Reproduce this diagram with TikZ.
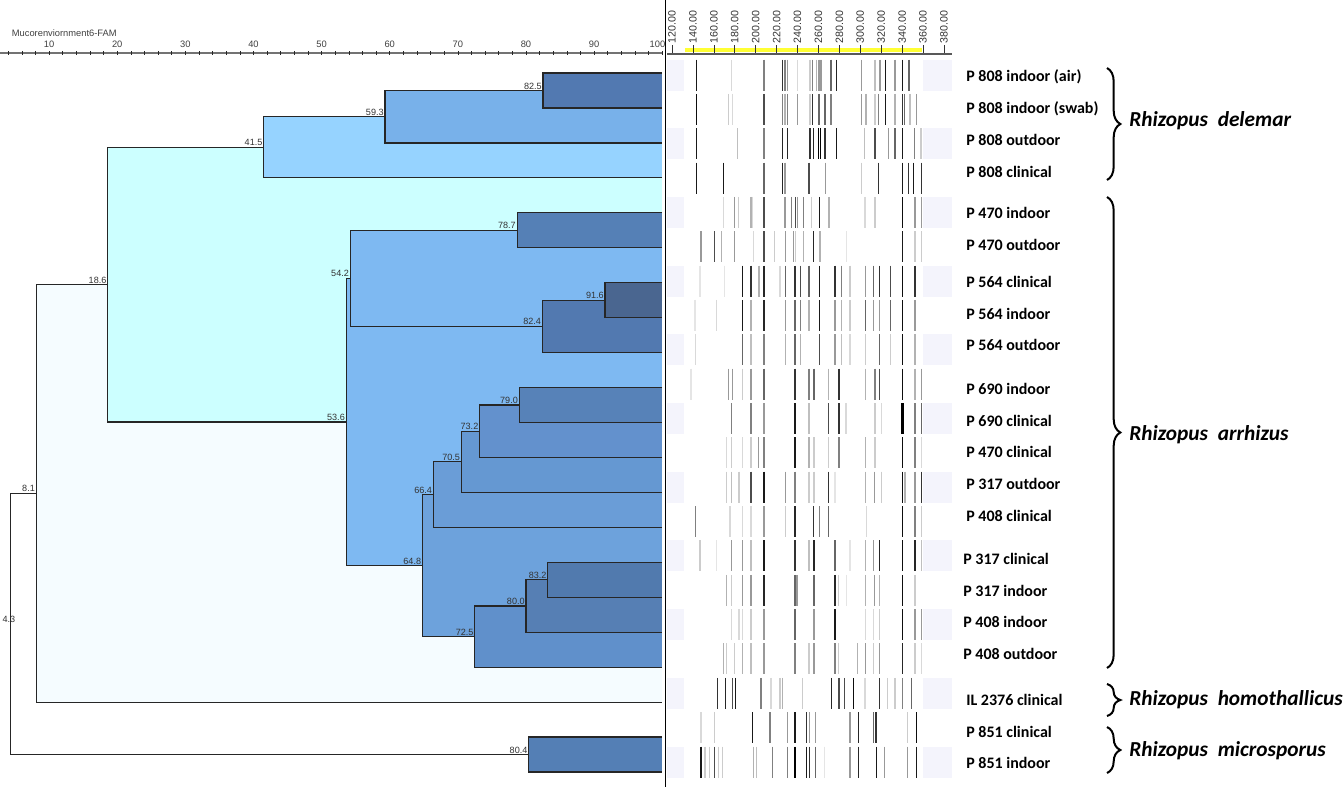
\documentclass[tikz,border=0pt]{standalone}
\usepackage{fontspec}
\setmainfont{Liberation Sans}
\newfontfamily\cali{Carlito}
\usetikzlibrary{decorations.pathreplacing}

\definecolor{c81}{HTML}{F5FCFF}
\definecolor{c186}{HTML}{CCFFFF}
\definecolor{c415}{HTML}{96D3FF}
\definecolor{c593}{HTML}{78B1EA}
\definecolor{c825}{HTML}{5279B1}
\definecolor{c536}{HTML}{7EB9F2}
\definecolor{c787}{HTML}{5580B6}
\definecolor{c824}{HTML}{5279B0}
\definecolor{c916}{HTML}{4A6690}
\definecolor{c648}{HTML}{6DA2DC}
\definecolor{c664}{HTML}{6A9DD7}
\definecolor{c705}{HTML}{6598D2}
\definecolor{c732}{HTML}{6391CD}
\definecolor{c790}{HTML}{5782B8}
\definecolor{c725}{HTML}{6090CB}
\definecolor{c800}{HTML}{567FB4}
\definecolor{c832}{HTML}{517AAE}
\definecolor{c804}{HTML}{547FB5}
\definecolor{laneend}{HTML}{F4F4FC}
\definecolor{scalebar}{HTML}{FFFF33}

\tikzset{
  tree/.style={draw=black!85,line width=0.9pt},
  simlbl/.style={anchor=south east,inner sep=0.8pt,font=\fontsize{6.8}{7}\selectfont,text=black!80},
  band/.style={line width=1.2pt},
  tick/.style={font=\fontsize{7}{8}\selectfont,text=black!75,inner sep=1pt},
  gtick/.style={font=\fontsize{8}{9}\selectfont,text=black!80,inner sep=1pt,rotate=90,anchor=west},
  lbl/.style={anchor=west,inner sep=0pt,font=\cali\bfseries\fontsize{12}{14}\selectfont},
  spc/.style={anchor=west,inner sep=0pt,font=\cali\bfseries\itshape\fontsize{16}{18}\selectfont},
  brc/.style={decorate,decoration={brace,amplitude=10pt},line width=1.5pt}
}

% clade: [label options] similarity, top y, bottom y, fill, name
\newcommand{\clade}[6][]{%
  \fill[#5] (#2,#3) rectangle (100,#4);
  \draw[tree] (100,#3) -- (#2,#3) -- (#2,#4) -- (100,#4);
  \node[simlbl,#1] (#6) at (#2,{(#3+#4)/2}) {#2};
}

% gel lane: number, list of band position/grey
\newcommand{\gellane}[2]{%
  \pgfmathsetmacro{\yc}{75+34.35*(#1-1)}
  \ifodd#1\relax
    \fill[laneend] (667,{\yc-15.5}) rectangle (684,{\yc+15.5});
    \fill[laneend] (923,{\yc-15.5}) rectangle (952,{\yc+15.5});
  \fi
  \foreach \bx/\bg in {#2}
    \draw[band,black!\bg] ({665+\bx/3},{\yc-15.5}) -- ({665+\bx/3},{\yc+15.5});
}

\begin{document}
\begin{tikzpicture}[x=0.75pt,y=-0.75pt]
\fill[white] (0,0) rectangle (1344,797);
\useasboundingbox (0,0) rectangle (1344,797);

\begin{scope}[x=5.109pt,xshift=-14.25pt]
\node[tick,anchor=west] (title) at (4.3,33) {Mucorenviornment6-FAM};
\draw[black!55,line width=2pt] (2.79,53) -- (100,53);
\foreach \v in {4,6,...,100}
  \draw[black!85,line width=0.5pt] (\v,51) -- (\v,55);
\foreach \v in {10,20,...,90}
  \node[tick] (r\v) at (\v,44) {\v};
\node[tick] (r100) at (99.3,44) {100};

\clade[anchor=south,xshift=-1pt]{4.3}{493.4}{754.5}{white}{c43}
\clade{8.1}{284.65}{702.1}{c81}{n81}
\clade{18.6}{147.3}{422.0}{c186}{n186}
\clade{41.5}{116.7}{177.85}{c415}{n415}
\clade{59.3}{90.5}{142.9}{c593}{n593}
\clade{82.5}{73}{107.95}{c825}{n825}
\clade{53.6}{278.35}{565.6}{c536}{n536}
\clade{54.2}{230.3}{326.4}{c536}{n542}
\clade{78.7}{212.8}{247.75}{c787}{n787}
\clade{82.4}{300.2}{352.6}{c824}{n824}
\clade{91.6}{282.7}{317.65}{c916}{n916}
\clade{64.8}{494.6}{636.6}{c648}{n648}
\clade{66.4}{461.8}{527.35}{c664}{n664}
\clade{70.5}{431.2}{492.4}{c705}{n705}
\clade{73.2}{405.0}{457.45}{c732}{n732}
\clade{79.0}{387.55}{422.5}{c790}{n790}
\clade{72.5}{606.0}{667.15}{c725}{n725}
\clade{80.0}{579.8}{632.2}{c800}{n800}
\clade{83.2}{562.3}{597.25}{c832}{n832}
\clade{80.4}{737.05}{772}{c804}{n804}
\end{scope}

\draw[line width=1.2pt] (665.5,0) -- (665.5,787);

\fill[scalebar] (685,48) rectangle (922,52);
\draw[black!65,line width=2pt] (667,54) -- (952,54);
\foreach \b [count=\k from 0] in {120,140,...,380}{
  \draw[black!80,line width=0.5pt] ({672+20.92*\k},45) -- ({672+20.92*\k},53);
  \node[gtick] (g\b) at ({672+20.92*\k},45) {\b.00};
}

\gellane{1}{95/90,200/15,297/50,353/80,360/50,368/40,398/15,435/20,443/50,455/30,462/40,465/40,468/40,498/60,515/85,590/40,630/25,645/40,662/90,690/40,712/90,732/60}
\gellane{2}{95/95,190/20,203/15,297/70,353/50,360/30,368/50,398/40,435/20,443/80,462/60,480/60,498/50,590/40,603/30,630/20,640/50,662/90,690/30,712/80,718/60,735/25,755/40}
\gellane{3}{95/90,218/25,297/50,353/85,368/85,435/80,445/85,461/100,466/100,480/80,515/90,598/25,630/70,670/40,690/60,712/90,748/50,768/20}
\gellane{4}{95/90,175/90,297/60,353/85,360/40,432/70,482/40,590/20,640/80,712/90,730/80,745/90,770/80}
\gellane{5}{175/15,208/40,220/20,258/30,262/15,297/70,360/40,380/50,392/70,398/40,415/50,440/20,463/90,492/30,600/15,630/20,712/95,750/40,770/40}
\gellane{6}{108/40,148/70,170/30,208/40,265/15,297/70,328/20,362/40,385/40,392/20,415/30,445/85,465/30,545/10,712/90,750/20,770/20}
\gellane{7}{105/10,178/10,233/90,258/80,282/30,297/85,345/15,362/60,390/80,406/70,432/60,463/90,510/80,530/50,555/20,602/40,625/60,643/80,676/70,712/95,750/80}
\gellane{8}{90/10,155/15,233/90,258/30,297/85,362/40,390/60,406/50,432/30,463/90,510/40,530/30,555/20,602/60,625/40,643/40,676/60,712/95,750/40}
\gellane{9}{92/15,233/60,258/25,297/50,362/30,390/60,406/30,463/70,510/40,530/25,555/15,602/20,643/60,676/20,712/95,750/30}
\gellane{10}{78/10,190/40,202/40,233/20,258/40,297/60,390/80,432/50,447/60,490/30,522/80,602/30,630/50,643/70,712/95,750/30,770/40}
\gellane{11}{200/50,258/50,297/40,390/90,432/25,490/70,522/80,543/15,630/20,650/15,710/100,714/100,750/50,770/60}
\gellane{12}{185/15,200/20,233/15,258/20,280/40,297/50,390/90,432/30,447/20,490/20,522/50,602/30,630/20,712/95,750/50,770/15}
\gellane{13}{185/20,200/25,222/20,258/70,297/90,362/40,390/50,432/20,447/20,490/80,510/10,602/30,628/40,650/20,712/95,720/30,750/40,770/80}
\gellane{14}{92/50,195/15,233/15,258/15,297/40,362/20,390/85,445/80,463/50,490/60,605/15,712/95,750/50,770/20}
\gellane{15}{105/20,155/10,200/40,232/40,258/25,297/90,390/80,432/25,447/85,510/60,555/10,602/30,625/40,643/85,712/95,750/85,770/25}
\gellane{16}{185/30,200/20,232/40,258/40,297/85,390/60,396/40,447/60,510/85,520/20,545/10,602/30,628/40,643/30,712/95,750/20}
\gellane{17}{200/15,222/15,232/15,258/20,297/40,390/60,447/40,510/90,602/15,625/15,643/20,712/95,750/40,770/40}
\gellane{18}{175/30,185/20,208/20,232/30,258/25,297/40,390/50,432/20,447/40,510/50,520/20,578/30,602/40,625/20,643/40,712/85,750/20,770/15}
\gellane{19}{158/80,181/85,203/70,212/90,288/50,318/15,345/20,353/30,413/20,500/85,522/70,538/70,565/95,600/15,643/80,668/20,690/20,712/50,740/60}
\gellane{20}{108/15,148/20,262/90,315/50,368/40,390/90,425/80,433/40,452/40,555/40,580/85,625/60,633/80,728/20,755/95}
\gellane{21}{108/90,120/20,133/20,148/70,160/20,172/20,265/30,275/25,322/50,368/50,388/100,392/100,425/90,433/80,452/60,478/10,555/40,580/85,635/90,658/40,728/40,755/90}

\foreach \lx/\ly/\lt [count=\i] in {966/77/P 808 indoor (air),966/109/P 808 indoor (swab),966/140/P 808 outdoor,966/172/P 808 clinical,966/213/P 470 indoor,966/245/P 470 outdoor,966/282/P 564 clinical,966/314/P 564 indoor,966/345/P 564 outdoor,966/389/P 690 indoor,966/421/P 690 clinical,966/452/P 470 clinical,966/484/P 317 outdoor,966/516/P 408 clinical,963/559/P 317 clinical,963/591/P 317 indoor,963/622/P 408 indoor,963/654/P 408 outdoor,966/700/IL 2376 clinical,966/732/P 851 clinical,966/763/P 851 indoor}
  \node[lbl] (lab\i) at (\lx,\ly) {\lt};

\coordinate (delT) at (1107,68);
\coordinate (delB) at (1107,180);
\coordinate (arrT) at (1107,197);
\coordinate (arrB) at (1107,668);
\coordinate (homT) at (1107,684);
\coordinate (homB) at (1107,716);
\coordinate (micT) at (1107,727);
\coordinate (micB) at (1107,773);
\draw[brc] (delT) -- (delB);
\draw[brc] (arrT) -- (arrB);
\draw[brc] (homT) -- (homB);
\draw[brc] (micT) -- (micB);
\node[spc] (delemar) at (1129,121) {Rhizopus\ \ delemar};
\node[spc] (arrhizus) at (1129,435) {Rhizopus\ \ arrhizus};
\node[spc] (homoth) at (1129,700) {Rhizopus\ \ homothallicus};
\node[spc] (micro) at (1129,751) {Rhizopus\ \ microsporus};
\end{tikzpicture}
\end{document}
